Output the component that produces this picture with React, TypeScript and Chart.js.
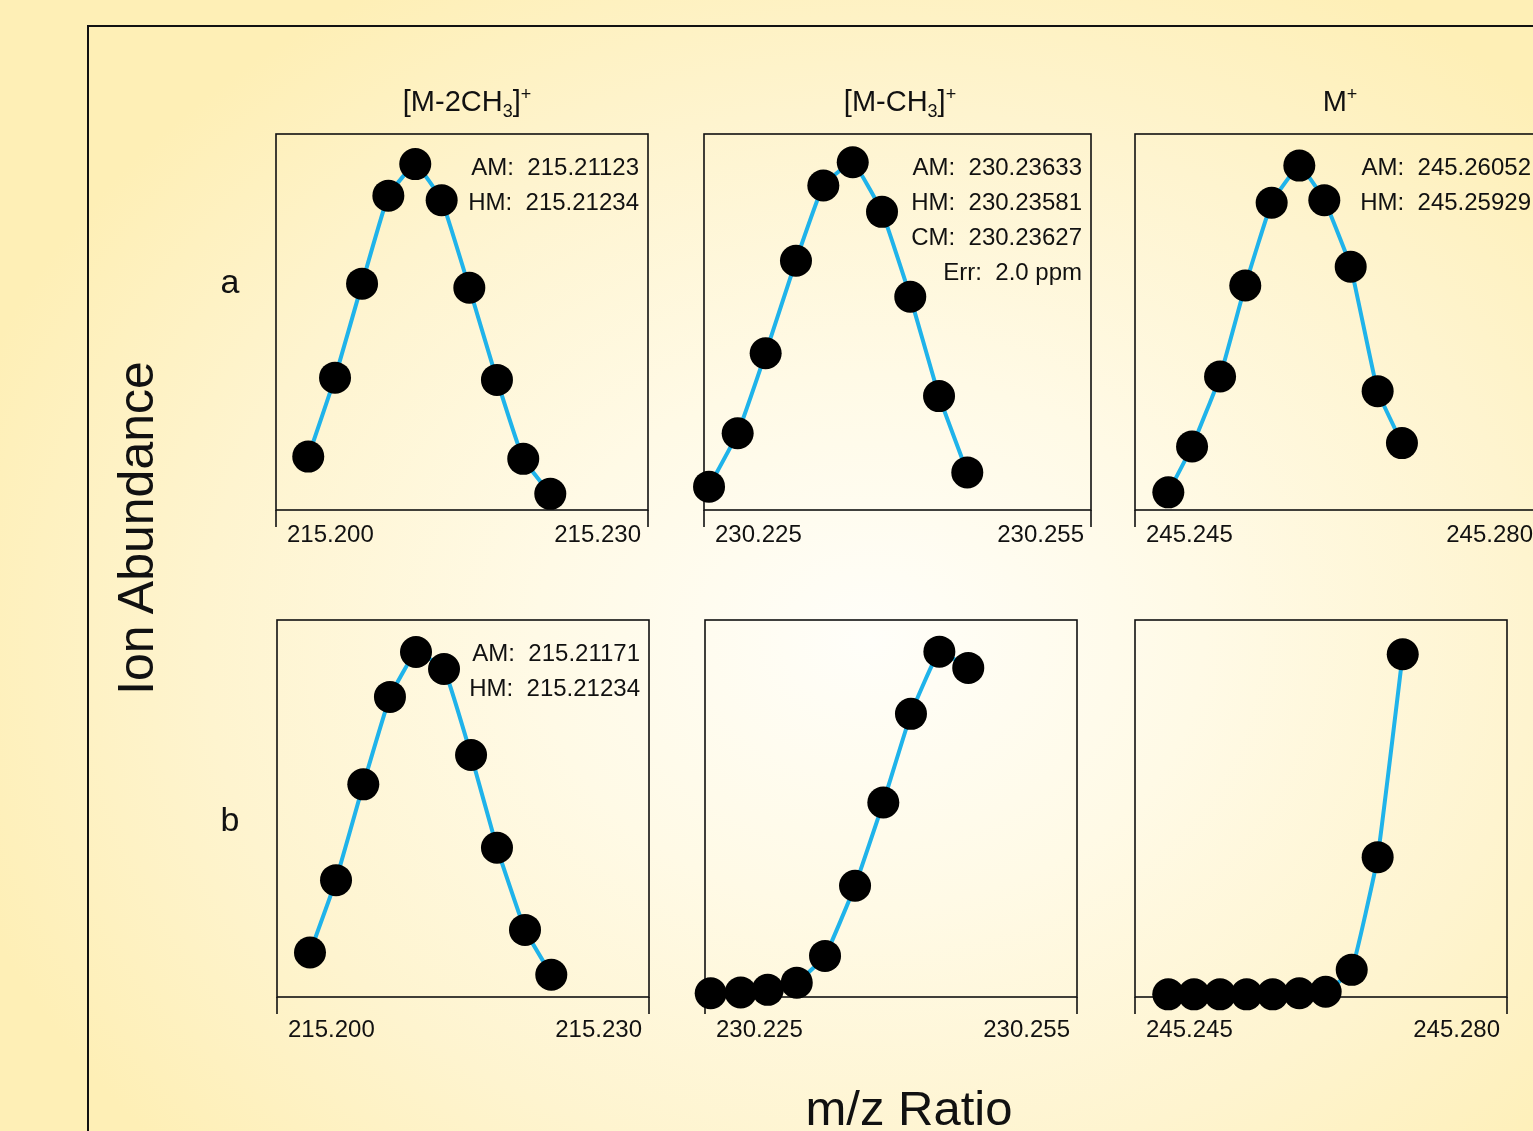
import React, { useEffect, useRef } from 'react';
import { Chart, registerables } from 'chart.js';

Chart.register(...registerables);

// ---------- data ----------
const columnTitles = ['[M-2CH|3|]|+', '[M-CH|3|]|+', 'M|+'];
const rowLabels = ['a', 'b'];
const tickLabels1 = ['215.200', '215.230'];
const tickLabels2 = ['230.225', '230.255'];
const tickLabels3 = ['245.245', '245.280'];

const a1X = [215.2026, 215.20476, 215.20694, 215.20906, 215.21123, 215.21336, 215.21559, 215.21782, 215.21994, 215.22212];
const a1Y = [14.2, 35.2, 60.2, 83.6, 92.0, 82.4, 59.1, 34.6, 13.6, 4.3];
const a2X = [230.22539, 230.22761, 230.22978, 230.23213, 230.23425, 230.23653, 230.2388, 230.24099, 230.24322, 230.24541];
const a2Y = [6.2, 20.4, 41.7, 66.3, 86.3, 92.5, 79.3, 56.7, 30.3, 10.0];
const a3X = [245.24788, 245.24993, 245.25235, 245.25453, 245.25681, 245.2592, 245.26136, 245.26364, 245.26597, 245.26807];
const a3Y = [4.7, 16.9, 35.5, 59.7, 81.7, 91.6, 82.4, 64.7, 31.6, 17.8];
const b1X = [215.20266, 215.20476, 215.20696, 215.20911, 215.21121, 215.21347, 215.21565, 215.21774, 215.22, 215.22212];
const b1Y = [11.8, 31.0, 56.4, 79.6, 91.5, 87.0, 64.2, 39.6, 17.8, 5.9];
const b2X = [230.22546, 230.22788, 230.23006, 230.2324, 230.23468, 230.2371, 230.23938, 230.24161, 230.2439, 230.24623];
const b2Y = [1.0, 1.2, 1.9, 3.8, 10.9, 29.5, 51.6, 75.1, 91.6, 87.3];
const b3X = [245.24813, 245.25055, 245.253, 245.25551, 245.25796, 245.26046, 245.26294, 245.26539, 245.26783, 245.27019];
const b3Y = [0.7, 0.7, 0.7, 0.7, 0.7, 1.0, 1.4, 7.2, 37.1, 90.9];

const notesA1 = ['AM:  215.21123', 'HM:  215.21234'];
const notesA2 = ['AM:  230.23633', 'HM:  230.23581', 'CM:  230.23627', 'Err:  2.0 ppm'];
const notesA3 = ['AM:  245.26052', 'HM:  245.25929'];
const notesB1 = ['AM:  215.21171', 'HM:  215.21234'];
const notesNone: string[] = [];

const xAxisTitle = 'm/z Ratio';
const yAxisTitle = 'Ion Abundance';

// ---------- layout / style ----------
const FONT = '"Liberation Sans", Arial, Helvetica, sans-serif';
const BLUE = '#1fb3ea';
const INK = '#111';
const PAD = { l: 40, r: 40, t: 40, b: 60 };

type PanelSpec = {
  left: number; right: number; top: number; bottom: number;
  xs: number[]; ys: number[]; ticks: string[]; notes: string[]; labelDy: number;
};

const panels: PanelSpec[] = [
  { left: 276, right: 648, top: 134, bottom: 510, xs: a1X, ys: a1Y, ticks: tickLabels1, notes: notesA1, labelDy: 31.5 },
  { left: 704, right: 1091, top: 134, bottom: 510, xs: a2X, ys: a2Y, ticks: tickLabels2, notes: notesA2, labelDy: 31.5 },
  { left: 1135, right: 1540, top: 134, bottom: 510, xs: a3X, ys: a3Y, ticks: tickLabels3, notes: notesA3, labelDy: 31.5 },
  { left: 277, right: 649, top: 620, bottom: 997, xs: b1X, ys: b1Y, ticks: tickLabels1, notes: notesB1, labelDy: 40 },
  { left: 705, right: 1077, top: 620, bottom: 997, xs: b2X, ys: b2Y, ticks: tickLabels2, notes: notesNone, labelDy: 40 },
  { left: 1135, right: 1507, top: 620, bottom: 997, xs: b3X, ys: b3Y, ticks: tickLabels3, notes: notesNone, labelDy: 40 },
];

function makeFramePlugin(p: PanelSpec) {
  return {
    id: 'panelFrame',
    beforeDatasetsDraw(chart: any) {
      const { ctx, chartArea: a, scales } = chart;
      const xs = scales.x;
      const x0 = xs.getPixelForValue(xs.min);
      const x1 = xs.getPixelForValue(xs.max);
      ctx.save();
      ctx.strokeStyle = INK;
      ctx.lineWidth = 1.6;
      ctx.strokeRect(a.left, a.top, a.right - a.left, a.bottom - a.top);
      ctx.beginPath();
      ctx.moveTo(x0, a.bottom);
      ctx.lineTo(x0, a.bottom + 17);
      ctx.moveTo(x1, a.bottom);
      ctx.lineTo(x1, a.bottom + 17);
      ctx.stroke();
      ctx.fillStyle = INK;
      ctx.font = `24px ${FONT}`;
      ctx.textBaseline = 'alphabetic';
      ctx.textAlign = 'left';
      ctx.fillText(p.ticks[0], x0 + 11, a.bottom + p.labelDy);
      ctx.textAlign = 'right';
      ctx.fillText(p.ticks[1], x1 - 7, a.bottom + p.labelDy);
      ctx.restore();
    },
    afterDatasetsDraw(chart: any) {
      const { ctx, chartArea: a } = chart;
      ctx.save();
      ctx.fillStyle = INK;
      ctx.font = `24px ${FONT}`;
      ctx.textAlign = 'right';
      ctx.textBaseline = 'alphabetic';
      p.notes.forEach((t, i) => {
        ctx.fillText(t, a.right - 9, a.top + 40.5 + i * 35.2);
      });
      ctx.restore();
    },
  };
}

function Panel({ p }: { p: PanelSpec }) {
  const ref = useRef<HTMLCanvasElement | null>(null);
  const w = p.right - p.left + PAD.l + PAD.r;
  const h = p.bottom - p.top + PAD.t + PAD.b;
  useEffect(() => {
    const canvas = ref.current;
    if (!canvas) return;
    const min = parseFloat(p.ticks[0]);
    const max = parseFloat(p.ticks[1]);
    const chart = new Chart(canvas, {
      type: 'line',
      data: {
        datasets: [
          {
            data: p.xs.map((x, i) => ({ x, y: p.ys[i] })),
            borderColor: BLUE,
            borderWidth: 4,
            pointRadius: 16,
            pointHoverRadius: 16,
            pointBackgroundColor: '#000',
            pointBorderColor: '#000',
            pointBorderWidth: 0,
            tension: 0.1,
            fill: false,
            clip: false as any,
          } as any,
        ],
      },
      options: {
        animation: false,
        responsive: false,
        maintainAspectRatio: false,
        devicePixelRatio: 1,
        events: [],
        layout: { padding: { left: PAD.l, right: PAD.r, top: PAD.t, bottom: PAD.b } },
        plugins: { legend: { display: false }, tooltip: { enabled: false } },
        scales: {
          x: { type: 'linear', min, max, display: false },
          y: { type: 'linear', min: 0, max: 100, display: false },
        },
      },
      plugins: [makeFramePlugin(p) as any],
    });
    return () => chart.destroy();
  }, []);
  return (
    <canvas
      ref={ref}
      width={w}
      height={h}
      style={{ position: 'absolute', left: p.left - PAD.l, top: p.top - PAD.t, width: w, height: h }}
    />
  );
}

function Title({ text, cx }: { text: string; cx: number }) {
  const [base, sub, mid, sup] = text.split('|');
  const size = 29;
  return (
    <div
      style={{
        position: 'absolute', left: cx - 150, width: 300, top: 111.7 - 0.8465 * size,
        height: size, lineHeight: `${size}px`, fontSize: size, textAlign: 'center',
        fontFamily: FONT, color: INK, whiteSpace: 'nowrap',
      }}
    >
      {base}
      {mid !== undefined ? (
        <>
          <span style={{ fontSize: '0.62em', position: 'relative', top: '0.32em' }}>{sub}</span>
          {mid}
          <span style={{ fontSize: '0.62em', position: 'relative', top: '-0.62em' }}>{sup}</span>
        </>
      ) : (
        <span style={{ fontSize: '0.62em', position: 'relative', top: '-0.62em' }}>{sub}</span>
      )}
    </div>
  );
}

export default function App() {
  const titleCenters = [467, 900, 1340];
  const rowBaselines = [293, 831];
  return (
    <div
      style={{
        position: 'fixed', left: 0, top: 0, width: 1533, height: 1131, overflow: 'hidden',
        background:
          'radial-gradient(ellipse 950px 760px at 870px 640px, #fffef9 0%, #fffae6 35%, #fef4cf 70%, #feefb6 100%)',
        fontFamily: FONT,
      }}
    >
      <div
        style={{
          position: 'absolute', left: 87, top: 25, width: 2000, height: 2000,
          border: '2px solid #111', boxSizing: 'border-box',
        }}
      />
      {columnTitles.map((t, i) => (
        <Title key={t} text={t} cx={titleCenters[i]} />
      ))}
      {rowLabels.map((t, i) => (
        <div
          key={t}
          style={{
            position: 'absolute', left: 198, width: 64, textAlign: 'center',
            top: rowBaselines[i] - 0.8465 * 34, height: 34, lineHeight: '34px', fontSize: 34, color: INK,
          }}
        >
          {t}
        </div>
      ))}
      <div
        style={{
          position: 'absolute', left: 136.4 - 250, top: 527.5 - 25, width: 500, height: 50,
          lineHeight: '50px', fontSize: 50, textAlign: 'center', color: INK,
          transform: 'rotate(-90deg)', whiteSpace: 'nowrap',
        }}
      >
        {yAxisTitle}
      </div>
      <div
        style={{
          position: 'absolute', left: 909 - 250, width: 500, top: 1125 - 0.8465 * 49, height: 49,
          lineHeight: '49px', fontSize: 49, textAlign: 'center', color: INK, whiteSpace: 'nowrap',
        }}
      >
        {xAxisTitle}
      </div>
      {panels.map((p, i) => (
        <Panel key={i} p={p} />
      ))}
    </div>
  );
}
